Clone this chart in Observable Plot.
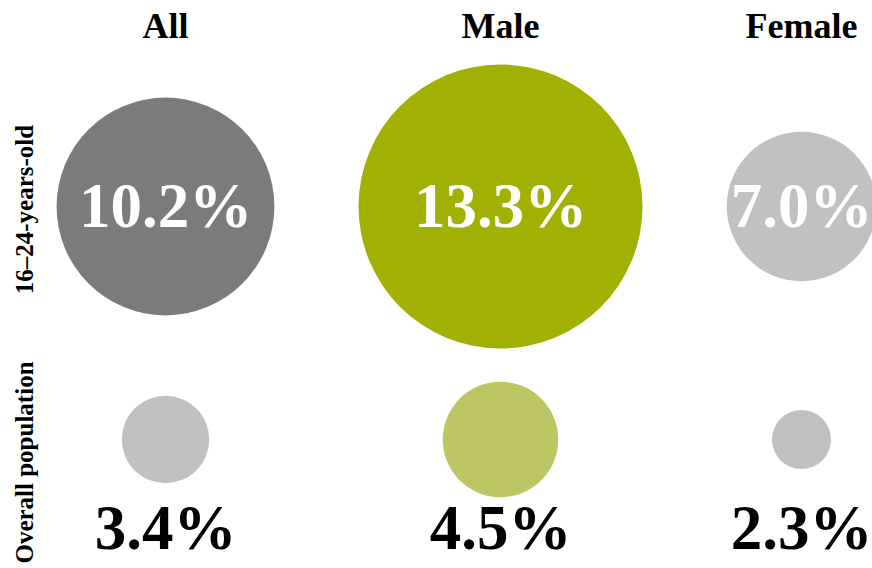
<!DOCTYPE html>
<html>
<head>
<meta charset="utf-8">
<script src="https://cdn.jsdelivr.net/npm/d3@7"></script>
<script src="https://cdn.jsdelivr.net/npm/@observablehq/plot@0.6"></script>
<style>
  html, body { margin: 0; padding: 0; background: #fff; }
  #chart { width: 872px; }
  #chart svg { display: block; overflow: visible; }
</style>
</head>
<body>
<div id="chart"></div>
<script>
// ---- data ----
const groups = ["All", "Male", "Female"];
const youthValues = [10.2, 13.3, 7.0];      // 16–24-years-old
const overallValues = [3.4, 4.5, 2.3];      // Overall population
const youthColors = ["#7b7b7b", "#a2b004", "#c0c0c2"];
const overallColors = ["#c0c0c2", "#bec563", "#c0c0c2"];
const rowLabels = ["16–24-years-old", "Overall population"];

const youth = groups.map((g, i) => ({group: g, value: youthValues[i], color: youthColors[i]}));
const overall = groups.map((g, i) => ({group: g, value: overallValues[i], color: overallColors[i]}));
const fmt = d => d.value.toFixed(1) + "%";
const font = "'Liberation Serif', 'Times New Roman', serif";

function xScale(kind) {
  return kind === "ordinal"
    ? {type: "ordinal", domain: groups, range: [165, 500, 801], axis: null}
    : {type: "point", domain: groups, range: [165, 801], axis: null};
}

function build(kind) {
  const top = Plot.plot({
    width: 872, height: 330,
    marginTop: 82, marginBottom: 0, marginLeft: 24, marginRight: 0,
    style: {fontFamily: font, background: "transparent", overflow: "visible"},
    x: xScale(kind),
    r: {type: "linear", domain: [0, 13.3], range: [0, 142]},
    marks: [
      Plot.dot(youth, {x: "group", r: "value", fill: "color", frameAnchor: "middle"}),
      Plot.text(youth, {x: "group", text: fmt, frameAnchor: "middle", fill: "white",
        fontSize: 63, fontWeight: "bold", fontFamily: font}),
      Plot.text(groups, {x: d => d, text: d => d, frameAnchor: "top", lineAnchor: "bottom",
        dy: -45, fill: "black", fontSize: 36, fontWeight: "bold", fontFamily: font}),
      Plot.text([rowLabels[0]], {text: d => d, frameAnchor: "left", rotate: -90, dy: 3,
        textAnchor: "middle", lineAnchor: "middle", fill: "black",
        fontSize: 25, fontWeight: "bold", fontFamily: font})
    ]
  });
  const bottom = Plot.plot({
    width: 872, height: 238,
    marginTop: 0, marginBottom: 20, marginLeft: 24, marginRight: 0,
    style: {fontFamily: font, background: "transparent", overflow: "visible"},
    x: xScale(kind),
    r: {type: "linear", domain: [0, 4.5], range: [0, 57.8]},
    marks: [
      Plot.dot(overall, {x: "group", r: "value", fill: "color", frameAnchor: "middle"}),
      Plot.text(overall, {x: "group", text: fmt, frameAnchor: "bottom", lineAnchor: "bottom",
        fill: "black", fontSize: 63, fontWeight: "bold", fontFamily: font}),
      Plot.text([rowLabels[1]], {text: d => d, frameAnchor: "left", rotate: -90, dy: 23,
        textAnchor: "middle", lineAnchor: "middle", fill: "black",
        fontSize: 25, fontWeight: "bold", fontFamily: font})
    ]
  });
  return [top, bottom];
}

let plots;
try { plots = build("ordinal"); } catch (e) { plots = build("point"); }
const chart = document.getElementById("chart");
plots.forEach(p => chart.appendChild(p));
</script>
</body>
</html>
